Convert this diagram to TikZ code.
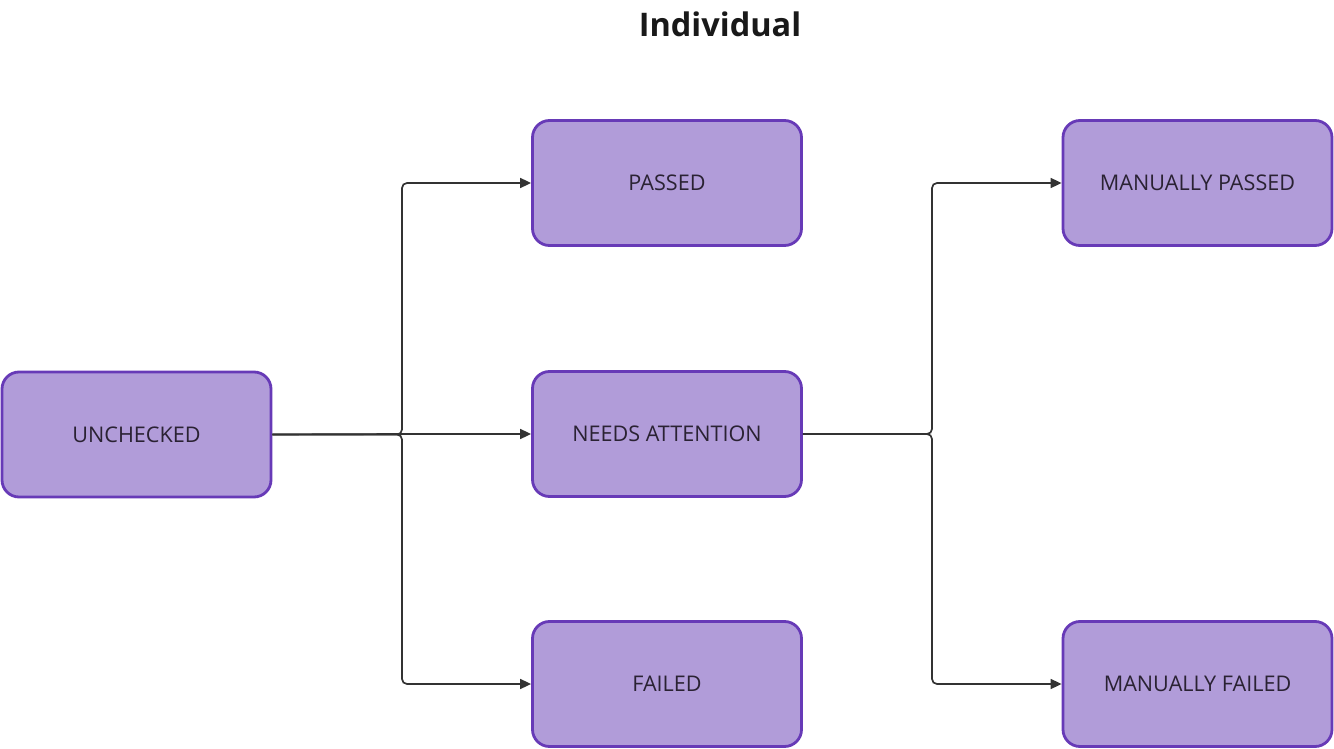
\documentclass[tikz,border=0pt]{standalone}
\usepackage{fontspec}
\setmainfont{Open Sans}
\usetikzlibrary{arrows.meta}
\definecolor{boxfill}{HTML}{B19CD9}
\definecolor{boxline}{HTML}{673AB7}
\definecolor{linec}{HTML}{333333}
\definecolor{txt}{HTML}{2A2233}
\begin{document}
\begin{tikzpicture}[x=1pt,y=-1pt,
  state/.style={draw=boxline,fill=boxfill,line width=2.8pt,rounded corners=17pt,
    minimum width=269pt,minimum height=125pt,inner sep=0pt,text=txt,
    font=\fontsize{21.6}{24}\selectfont},
  conn/.style={draw=linec,line width=1.7pt,rounded corners=5pt,-{Triangle[length=11pt,width=10pt]}}]
\useasboundingbox (0,0) rectangle (1334,749);
\node[font=\fontsize{32.5}{36}\selectfont\bfseries,text=black!90] (title) at (720,24) {Individual};
\node[state] (un) at (136.5,434.5) {\raisebox{-1.5pt}{UNCHECKED}};
\node[state] (pa) at (667,183) {\raisebox{-1.5pt}{PASSED}};
\node[state] (na) at (667,434) {\raisebox{-1.5pt}{NEEDS ATTENTION}};
\node[state] (fa) at (667,684) {\raisebox{-1.5pt}{FAILED}};
\node[state] (mp) at (1197.5,183) {\raisebox{-1.5pt}{MANUALLY PASSED}};
\node[state] (mf) at (1197.5,684) {\raisebox{-1.5pt}{MANUALLY FAILED}};
\draw[conn] (un.east) -| (402,183) -- (pa.west);
\draw[conn] (un.east) -- (402,434) -- (na.west);
\draw[conn] (un.east) -| (402,684) -- (fa.west);
\draw[conn] (na.east) -| (932,183) -- (mp.west);
\draw[conn] (na.east) -| (932,684) -- (mf.west);
\end{tikzpicture}
\end{document}
